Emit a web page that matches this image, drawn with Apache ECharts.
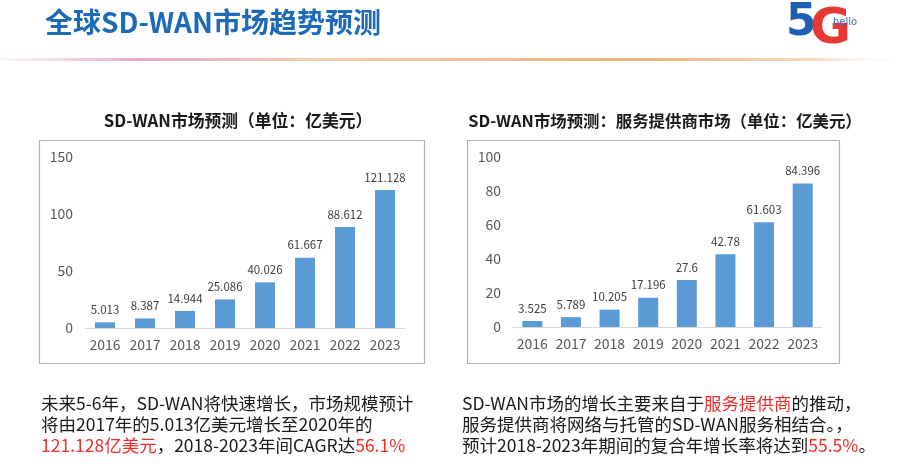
<!DOCTYPE html>
<html>
<head>
<meta charset="utf-8">
<script src="https://cdn.jsdelivr.net/npm/echarts@6/dist/echarts.min.js"></script>
<style>
html,body{margin:0;padding:0;background:#fff;}
#chart{width:910px;height:468px;}
</style>
</head>
<body>
<div id="chart"></div>
<script>
const categories = ['2016','2017','2018','2019','2020','2021','2022','2023'];
const marketValues = [5.013, 8.387, 14.944, 25.086, 40.026, 61.667, 88.612, 121.128];
const providerValues = [3.525, 5.789, 10.205, 17.196, 27.6, 42.78, 61.603, 84.396];
const pageTitle = '全球SD-WAN市场趋势预测';
const leftTitle = 'SD-WAN市场预测（单位：亿美元）';
const rightTitle = 'SD-WAN市场预测：服务提供商市场（单位：亿美元）';

const FONT = '"Noto Sans CJK SC","Noto Sans",sans-serif';
const BAR = '#5b9bd5';
const RED = '#e8312f';
const TXT = '#1a1a1a';

const chart = echarts.init(document.getElementById('chart'), null, {renderer:'canvas'});

function xAxisCfg(idx){
  return {
    type:'category', gridIndex:idx, data:categories,
    axisLine:{lineStyle:{color:'#d9d9d9',width:1}},
    axisTick:{show:false},
    axisLabel:{color:'#595959',fontSize:14,margin:10,interval:0,fontFamily:FONT}
  };
}
function yAxisCfg(idx,max,interval){
  return {
    type:'value', gridIndex:idx, min:0, max:max, interval:interval,
    axisLine:{show:false}, axisTick:{show:false}, splitLine:{show:false},
    axisLabel:{color:'#595959',fontSize:14,margin:12,fontFamily:FONT}
  };
}
function barSeries(idx,data){
  return {
    type:'bar', xAxisIndex:idx, yAxisIndex:idx, data:data, barWidth:20,
    itemStyle:{color:BAR},
    label:{show:true,position:'top',distance:7,color:'#404040',fontSize:11.5,fontFamily:FONT},
    silent:true
  };
}

const option = {
  animation:false,
  backgroundColor:'#ffffff',
  grid:[
    {left:85, top:157, width:320, height:171},
    {left:513, top:157, width:309, height:170}
  ],
  xAxis:[xAxisCfg(0), xAxisCfg(1)],
  yAxis:[yAxisCfg(0,150,50), yAxisCfg(1,100,20)],
  series:[barSeries(0,marketValues), barSeries(1,providerValues)],
  graphic:[
    {type:'text', left:45, top:8, style:{text:pageTitle, fill:'#1c6ab8', font:'bold 28px '+FONT}},
    {type:'rect', shape:{x:0,y:58,width:910,height:3}, style:{fill:new echarts.graphic.LinearGradient(0,0,1,0,[
      {offset:0,color:'rgba(230,200,215,0.2)'},
      {offset:0.15,color:'#e2a9c9'},
      {offset:0.35,color:'#f1cfb0'},
      {offset:0.7,color:'#e9b27a'},
      {offset:0.9,color:'#f3dcc3'},
      {offset:1,color:'rgba(255,255,255,0)'}
    ])}},
    {type:'text', left:786, top:2, style:{text:'5', fill:'#1d5fb2', font:'bold 44px "DejaVu Sans",sans-serif'}},
    {type:'text', left:810, top:5, style:{text:'G', fill:'#e53935', font:'bold 50px "DejaVu Sans",sans-serif'}},
    {type:'text', left:833, top:17, style:{text:'hello', fill:'#3a6fc0', font:'10px "DejaVu Sans",sans-serif'}},

    {type:'rect', shape:{x:39.5,y:140.5,width:385,height:223}, style:{fill:'none',stroke:'#b3b3b3',lineWidth:1.2}},
    {type:'rect', shape:{x:467.5,y:140.5,width:372,height:223}, style:{fill:'none',stroke:'#b3b3b3',lineWidth:1.2}},
    {type:'text', x:238, y:121, style:{text:leftTitle, fill:TXT, font:'bold 16.8px '+FONT, align:'center', verticalAlign:'middle'}},
    {type:'text', x:665, y:121, style:{text:rightTitle, fill:TXT, font:'bold 16.4px '+FONT, align:'center', verticalAlign:'middle'}},

    {type:'text', left:41, top:393, style:{
      text:'{n|未来5-6年，SD-WAN将快速增长，市场规模预计}\n{n|将由2017年的5.013亿美元增长至2020年的}\n{r|121.128亿美元}{n|，2018-2023年间CAGR达}{r|56.1%}',
      lineHeight:21,
      rich:{n:{fill:TXT,font:'17.5px '+FONT,lineHeight:21},r:{fill:RED,font:'17.5px '+FONT,lineHeight:21}}
    }},
    {type:'text', left:462, top:393, style:{
      text:'{n|SD-WAN市场的增长主要来自于}{r|服务提供商}{n|的推动，}\n{n|服务提供商将网络与托管的SD-WAN服务相结合。，}\n{n|预计2018-2023年期间的复合年增长率将达到}{r|55.5%}{n|。}',
      lineHeight:21,
      rich:{n:{fill:TXT,font:'17.5px '+FONT,lineHeight:21},r:{fill:RED,font:'17.5px '+FONT,lineHeight:21}}
    }}
  ]
};
chart.setOption(option);
</script>
</body>
</html>
